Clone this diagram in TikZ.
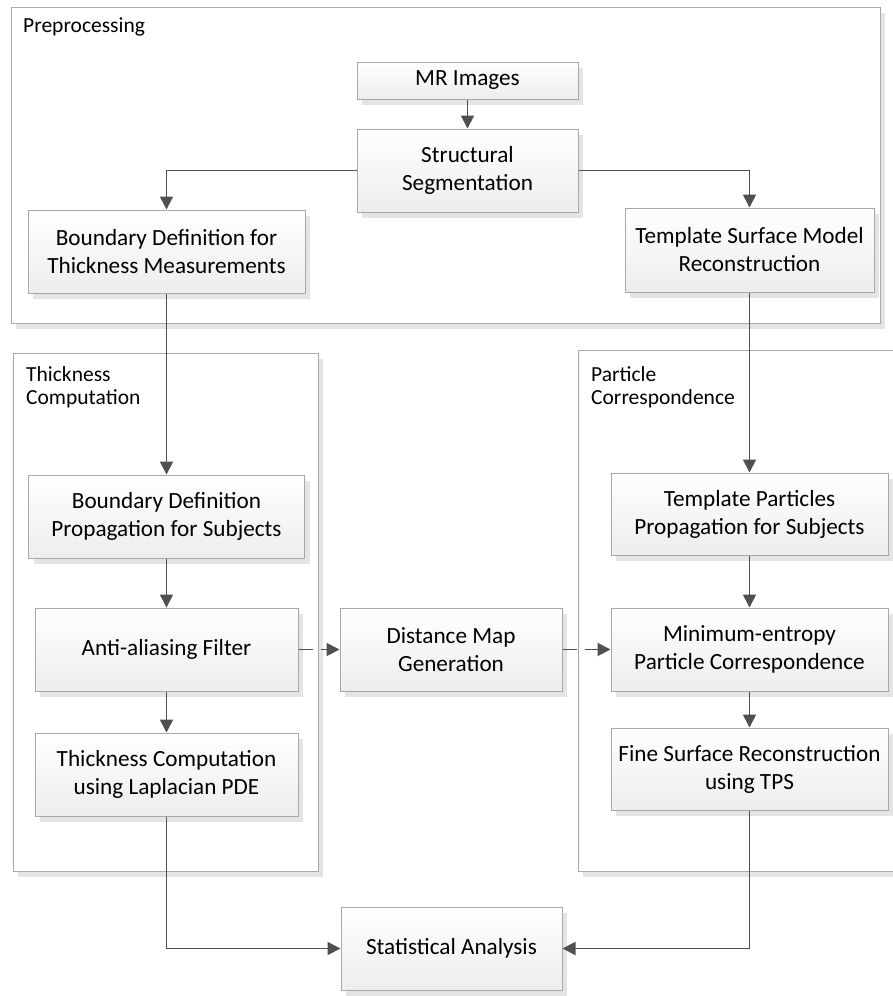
\documentclass[tikz,border=0pt]{standalone}
\usepackage{fontspec}
\setmainfont{Carlito}
\usetikzlibrary{arrows.meta, shadows}
\definecolor{edge}{RGB}{168, 168, 168}
\definecolor{ink}{RGB}{80, 80, 80}
\definecolor{shade}{RGB}{228, 228, 228}
\tikzset{
  stage/.style={draw=edge, line width=1pt, top color=white, bottom color=black!7,
    align=center, font=\fontsize{23.2}{28}\selectfont, inner sep=0pt,
    drop shadow={shadow xshift=5pt, shadow yshift=-6pt, fill=shade, opacity=1}},
  frame/.style={draw=edge, line width=1pt, fill=white,
    drop shadow={shadow xshift=5pt, shadow yshift=-6pt, fill=shade, opacity=1}},
  caption/.style={align=left, anchor=north west, inner sep=0pt,
    font=\fontsize{21.5}{23}\selectfont},
  flow/.style={draw=ink, line width=1.8pt, -{Triangle[length=13pt, width=13pt]}},
  link/.style={flow, dash pattern=on 14pt off 8pt}
}

\begin{document}
\begin{tikzpicture}[x=1pt, y=-1pt]
  \useasboundingbox[fill=white] (0, 0) rectangle (893, 996);

  % group frames
  \draw[frame] (11, 7) rectangle (880, 323);
  \draw[frame] (13, 353) rectangle (318, 871);
  \draw[frame] (578, 350) rectangle (905, 871);

  \node[caption] (preLabel) at (23, 18) {Preprocessing};
  \node[caption] (thkLabel) at (26, 366) {Thickness\\Computation};
  \node[caption] (pcLabel) at (591, 366) {Particle\\Correspondence};

  % preprocessing
  \node[stage, minimum width=221pt, minimum height=37pt] (mri) at (467.5, 80.5) {MR Images};
  \node[stage, minimum width=221pt, minimum height=83pt] (seg) at (467.5, 170.5) {Structural\\Segmentation};
  \node[stage, minimum width=277pt, minimum height=83pt] (bnd) at (166.5, 251.5) {Boundary Definition for\\Thickness Measurements};
  \node[stage, minimum width=249pt, minimum height=84pt] (tmpl) at (749.5, 250) {Template Surface Model\\Reconstruction};

  % thickness computation
  \node[stage, minimum width=276pt, minimum height=83pt] (bprop) at (166.5, 516.5) {Boundary Definition\\Propagation for Subjects};
  \node[stage, minimum width=263pt, minimum height=83pt] (aa) at (166.5, 649.5) {Anti-aliasing Filter};
  \node[stage, minimum width=263pt, minimum height=83pt] (thick) at (166.5, 774.5) {Thickness Computation\\using Laplacian PDE};

  \node[stage, minimum width=222pt, minimum height=83pt] (dist) at (451, 649.5) {Distance Map\\Generation};

  % particle correspondence
  \node[stage, minimum width=277pt, minimum height=82pt] (tpart) at (749.5, 514) {Template Particles\\Propagation for Subjects};
  \node[stage, minimum width=277pt, minimum height=83pt] (minent) at (749.5, 649.5) {Minimum-entropy\\Particle Correspondence};
  \node[stage, minimum width=277pt, minimum height=82pt] (fine) at (749.5, 769) {Fine Surface Reconstruction\\using TPS};

  \node[stage, minimum width=221pt, minimum height=83pt] (stat) at (451.5, 948.5) {Statistical Analysis};

  % connectors
  \draw[flow] (mri) -- (seg);
  \draw[flow] (seg.west) -| (bnd.north);
  \draw[flow] (seg.east) -| (tmpl.north);
  \draw[flow] (bnd) -- (bprop);
  \draw[flow] (bprop) -- (aa);
  \draw[flow] (aa) -- (thick);
  \draw[flow] (tmpl) -- (tpart);
  \draw[flow] (tpart) -- (minent);
  \draw[flow] (minent) -- (fine);
  \draw[link] (aa) -- (dist);
  \draw[link] (dist) -- (minent);
  \draw[flow] (thick.south) |- (stat.west);
  \draw[flow] (fine.south) |- (stat.east);
\end{tikzpicture}
\end{document}
